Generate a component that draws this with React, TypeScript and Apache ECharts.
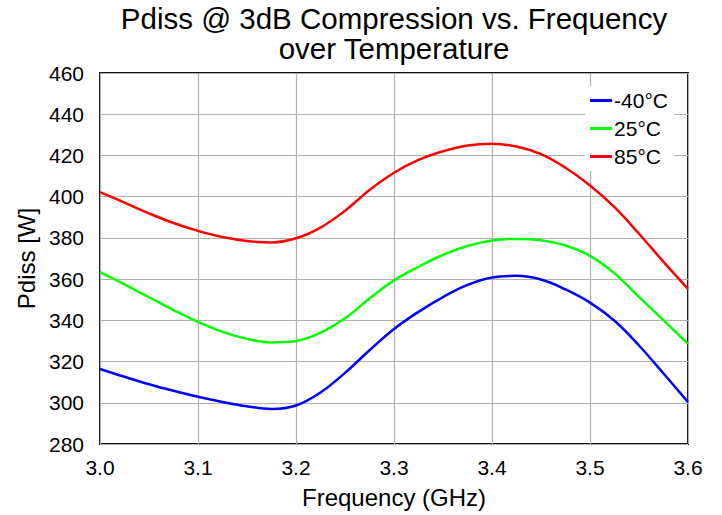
import React, { useEffect, useRef } from "react";
import * as echarts from "echarts";

const freqs = [
  3.0, 3.025, 3.05, 3.075, 3.1, 3.125, 3.15, 3.175, 3.2, 3.225, 3.25, 3.275, 3.3,
  3.325, 3.35, 3.375, 3.4, 3.425, 3.45, 3.475, 3.5, 3.525, 3.55, 3.575, 3.6,
];
const seriesNames = ["-40°C", "25°C", "85°C"];
const blue = [
  316.4, 312.6, 309.0, 305.8, 302.9, 300.4, 298.3, 297.0, 298.7, 305.0, 314.5, 325.5, 335.8,
  344.1, 351.3, 357.2, 360.8, 361.6, 359.8, 355.0, 348.6, 339.8, 327.8, 314.2, 300.3,
];
const green = [
  363.4, 357.4, 351.2, 345.0, 339.2, 334.4, 331.0, 329.3, 330.0, 334.0, 341.0, 350.6, 359.4,
  366.0, 371.8, 376.1, 378.7, 379.5, 378.9, 376.3, 371.3, 362.8, 351.4, 340.0, 328.6,
];
const red = [
  402.2, 397.1, 391.9, 387.2, 383.4, 380.4, 378.5, 377.8, 379.8, 385.0, 393.2, 403.2, 411.6,
  417.8, 422.0, 424.8, 425.7, 424.3, 420.6, 414.0, 405.4, 394.9, 382.0, 368.4, 355.3,
];
const colors = ["#0000ff", "#00ff00", "#ff0000"];
const yTicks = { min: 280, max: 460, interval: 20 };
const xTicks = { min: 3.0, max: 3.6, interval: 0.1 };

export default function App() {
  const ref = useRef<HTMLDivElement>(null);
  useEffect(() => {
    const chart = echarts.init(ref.current!, null, { renderer: "svg" });
    const font = "'Liberation Sans', Arial, sans-serif";
    const all = [blue, green, red];
    chart.setOption({
      animation: false,
      backgroundColor: "#ffffff",
      textStyle: { fontFamily: font },
      title: {
        text: "Pdiss @ 3dB Compression vs. Frequency\nover Temperature",
        left: 394,
        textAlign: "center",
        top: 3,
        padding: 0,
        textStyle: { fontSize: 29.5, fontWeight: "normal", color: "#000", lineHeight: 30, fontFamily: font },
      },
      legend: {
        right: 48,
        top: 86,
        orient: "vertical",
        itemGap: 7,
        itemWidth: 22,
        itemHeight: 3,
        icon: "rect",
        backgroundColor: "#ffffff",
        padding: [4, 6, 4, 5],
        textStyle: { fontSize: 21, color: "#000", fontFamily: font, padding: [0, 0, 0, -3] },
        data: seriesNames,
      },
      grid: {
        left: 100,
        right: 34,
        top: 73,
        bottom: 71,
        outerBoundsMode: "none",
        containLabel: false,
        show: true,
        borderColor: "#111",
        borderWidth: 2,
        backgroundColor: "transparent",
      },
      xAxis: {
        type: "value",
        min: xTicks.min,
        max: xTicks.max,
        interval: xTicks.interval,
        name: "Frequency (GHz)",
        nameLocation: "middle",
        nameGap: 41,
        nameTextStyle: { fontSize: 24, color: "#000", fontFamily: font },
        axisLine: { show: false },
        axisTick: { show: false },
        axisLabel: {
          fontSize: 21,
          color: "#000",
          margin: 13,
          fontFamily: font,
          formatter: (v: number) => v.toFixed(1),
        },
        splitLine: { show: true, lineStyle: { color: "#b0b0b0", width: 1.2 } },
      },
      yAxis: {
        type: "value",
        min: yTicks.min,
        max: yTicks.max,
        interval: yTicks.interval,
        name: "Pdiss [W]",
        nameLocation: "middle",
        nameGap: 54,
        nameTextStyle: { fontSize: 24, color: "#000", fontFamily: font },
        axisLine: { show: false },
        axisTick: { show: false },
        axisLabel: { fontSize: 21, color: "#000", margin: 16, fontFamily: font },
        splitLine: { show: true, lineStyle: { color: "#b0b0b0", width: 1.2 } },
      },
      series: seriesNames.map((n, i) => ({
        name: n,
        type: "line",
        smooth: 0.4,
        symbol: "none",
        color: colors[i],
        lineStyle: { color: colors[i], width: 2.5 },
        data: freqs.map((f, j) => [f, all[i][j]]),
        z: 2,
      })),
    });
    return () => chart.dispose();
  }, []);
  return (
    <div
      ref={ref}
      style={{ position: "fixed", left: 0, top: 0, width: 722, height: 515 }}
    />
  );
}
